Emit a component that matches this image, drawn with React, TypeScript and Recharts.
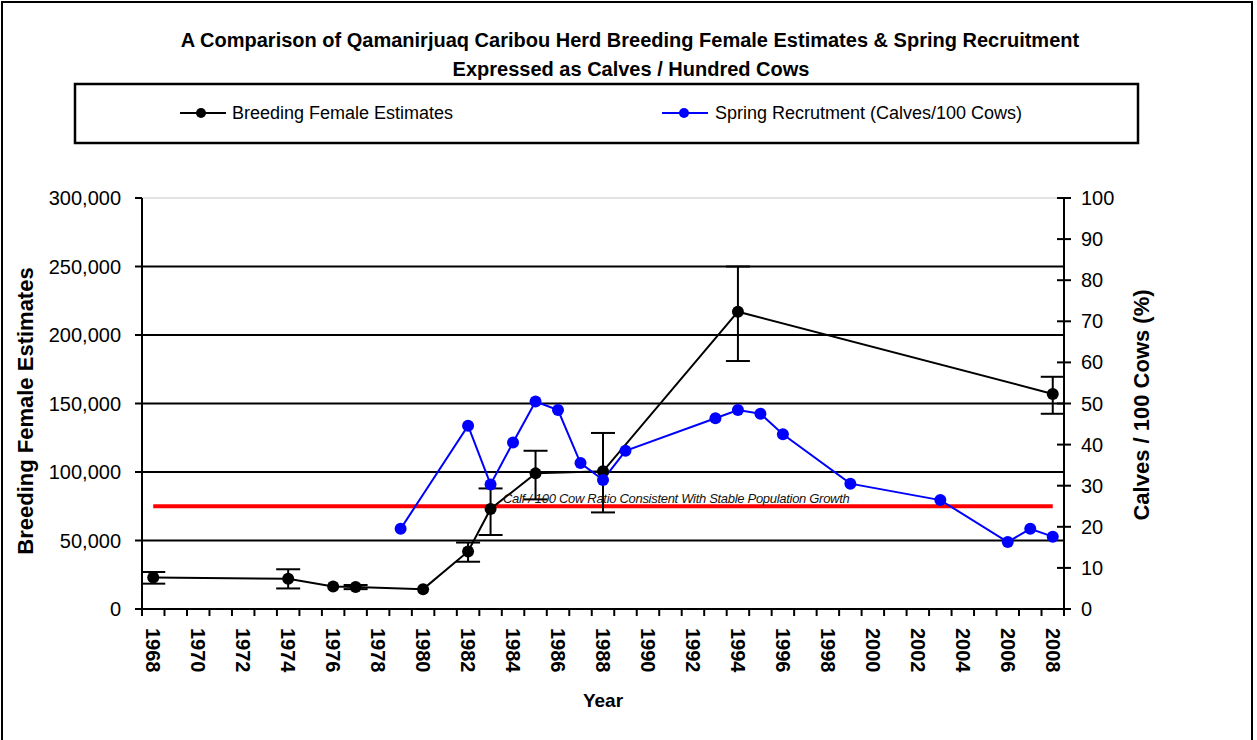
import React from 'react';
import {
  ComposedChart,
  Line,
  XAxis,
  YAxis,
  CartesianGrid,
  ErrorBar,
  ReferenceDot,
} from 'recharts';

const FONT = "Arial, 'Liberation Sans', Helvetica, sans-serif";

// Breeding female estimates (left axis)
const femaleYears = [1968, 1974, 1976, 1977, 1980, 1982, 1983, 1985, 1988, 1994, 2008];
const femaleValues = [23000, 22000, 16500, 16000, 14500, 42000, 73000, 99000, 100500, 217000, 157000];
const femaleErrLow = [4500, 7000, null, 1500, null, 7500, 19000, 19000, 30000, 36000, 14500];
const femaleErrHigh = [4000, 7000, null, 1500, null, 6500, 15000, 16500, 28000, 33000, 12500];

// Spring recruitment, calves / 100 cows (right axis)
const calfYears = [1979, 1982, 1983, 1984, 1985, 1986, 1987, 1988, 1989, 1993, 1994, 1995, 1996, 1999, 2003, 2006, 2007, 2008];
const calfValues = [19.5, 44.6, 30.3, 40.5, 50.5, 48.4, 35.5, 31.4, 38.5, 46.4, 48.4, 47.5, 42.5, 30.5, 26.5, 16.3, 19.5, 17.6];

// Stable population growth threshold (right axis)
const stableYears = [1968, 2008];
const stableValues = [25, 25];
const stableNote = 'Calf / 100 Cow Ratio Consistent With Stable Population Growth';
const stableNoteYear = 1983.55;

// Axis ticks
const leftTicks = [0, 50000, 100000, 150000, 200000, 250000, 300000];
const rightTicks = [0, 10, 20, 30, 40, 50, 60, 70, 80, 90, 100];
const firstYear = 1968;
const lastYear = 2008;
const yearCategories = Array.from({ length: lastYear - firstYear + 1 }, (_, i) => firstYear + i);
const yearLabels = yearCategories.filter((y) => y % 2 === 0);
const yearBoundaries = [...yearCategories.map((y) => y - 0.5), lastYear + 0.5];
const xTicks = [...yearBoundaries, ...yearLabels].sort((a, b) => a - b);

const allYears = Array.from(new Set([...femaleYears, ...calfYears, ...stableYears])).sort((a, b) => a - b);
const tableData = allYears.map((year) => {
  const fi = femaleYears.indexOf(year);
  const ci = calfYears.indexOf(year);
  const si = stableYears.indexOf(year);
  return {
    year,
    female: fi >= 0 ? femaleValues[fi] : null,
    femaleErr:
      fi >= 0 && femaleErrLow[fi] != null ? [femaleErrLow[fi], femaleErrHigh[fi]] : null,
    calves: ci >= 0 ? calfValues[ci] : null,
    stable: si >= 0 ? stableValues[si] : null,
  };
});

const BottomTick = (props: any) => {
  const { x, y, payload } = props;
  const v = payload.value;
  if (!Number.isInteger(v)) {
    return <line x1={x} y1={y} x2={x} y2={y + 7} stroke="#000" strokeWidth={2} />;
  }
  const ty = y + 19;
  return (
    <text
      x={x}
      y={ty}
      transform={`rotate(90 ${x} ${ty})`}
      textAnchor="start"
      dominantBaseline="central"
      fontSize={20}
      fontWeight="bold"
      fontFamily={FONT}
      fill="#000"
    >
      {v}
    </text>
  );
};

const LeftTick = (props: any) => {
  const { x, y, payload } = props;
  return (
    <g>
      <line x1={x - 7} y1={y} x2={x} y2={y} stroke="#000" strokeWidth={2} />
      <text
        x={x - 21}
        y={y}
        textAnchor="end"
        dominantBaseline="central"
        fontSize={20}
        fontFamily={FONT}
        fill="#000"
      >
        {Number(payload.value).toLocaleString('en-US')}
      </text>
    </g>
  );
};

const RightTick = (props: any) => {
  const { x, y, payload } = props;
  return (
    <g>
      <line x1={x - 7} y1={y} x2={x + 7} y2={y} stroke="#000" strokeWidth={2} />
      <text
        x={x + 17}
        y={y}
        textAnchor="start"
        dominantBaseline="central"
        fontSize={20}
        fontFamily={FONT}
        fill="#000"
      >
        {payload.value}
      </text>
    </g>
  );
};

const GridLine = (p: any) => {
  const isTop =
    p.index === leftTicks.length - 1 || (typeof p.y === 'number' && Math.abs(p.y1 - p.y) < 0.5);
  return (
    <line
      key={p.key}
      x1={p.x1}
      y1={p.y1}
      x2={p.x2}
      y2={p.y2}
      stroke={isTop ? '#c8c8c8' : '#000'}
      strokeWidth={isTop ? 1 : 2}
    />
  );
};

const StableLabel = (props: any) => {
  const vb = props.viewBox || {};
  const cx = (vb.cx ?? vb.x ?? 0);
  const cy = (vb.cy ?? vb.y ?? 0);
  return (
    <text
      x={cx}
      y={cy - 3}
      textAnchor="start"
      fontSize={13}
      letterSpacing={-0.3}
      fontStyle="italic"
      fontFamily={FONT}
      fill="#111"
    >
      {stableNote}
    </text>
  );
};

export default function App() {
  return (
    <div style={{ position: 'absolute', left: 0, top: 0, width: 1257, height: 740, background: '#fff', overflow: 'hidden' }}>
      <ComposedChart
        width={1257}
        height={740}
        data={tableData}
        margin={{ top: 198, right: 0, bottom: 31, left: 0 }}
      >
        <CartesianGrid yAxisId="left" vertical={false} horizontal={GridLine} />
        <XAxis
          dataKey="year"
          type="number"
          domain={[firstYear - 0.5, lastYear + 0.5]}
          ticks={xTicks}
          interval={0}
          tickLine={false}
          tickSize={0}
          tickMargin={0}
          height={100}
          tick={<BottomTick />}
          axisLine={{ stroke: '#000', strokeWidth: 2 }}
          allowDataOverflow
        />
        <YAxis
          yAxisId="left"
          orientation="left"
          width={142}
          domain={[0, 300000]}
          ticks={leftTicks}
          interval={0}
          tickLine={false}
          tickSize={0}
          tickMargin={0}
          tick={<LeftTick />}
          axisLine={{ stroke: '#000', strokeWidth: 2 }}
        />
        <YAxis
          yAxisId="right"
          orientation="right"
          width={193}
          domain={[0, 100]}
          ticks={rightTicks}
          interval={0}
          tickLine={false}
          tickSize={0}
          tickMargin={0}
          tick={<RightTick />}
          axisLine={{ stroke: '#000', strokeWidth: 2 }}
        />
        <Line
          yAxisId="right"
          dataKey="stable"
          stroke="#ff0000"
          strokeWidth={4}
          dot={false}
          activeDot={false}
          connectNulls
          isAnimationActive={false}
          legendType="none"
        />
        <Line
          yAxisId="left"
          dataKey="female"
          name="Breeding Female Estimates"
          stroke="#000"
          strokeWidth={2}
          dot={{ r: 6, fill: '#000', stroke: '#000', strokeWidth: 0 }}
          activeDot={false}
          connectNulls
          isAnimationActive={false}
        >
          <ErrorBar dataKey="femaleErr" width={12} stroke="#000" strokeWidth={2} direction="y" />
        </Line>
        <Line
          yAxisId="right"
          dataKey="calves"
          name="Spring Recrutment (Calves/100 Cows)"
          stroke="#0000ff"
          strokeWidth={2}
          dot={{ r: 6, fill: '#0000ff', stroke: '#0000ff', strokeWidth: 0 }}
          activeDot={false}
          connectNulls
          isAnimationActive={false}
        />
        <ReferenceDot
          yAxisId="right"
          x={stableNoteYear}
          y={stableValues[0]}
          r={0}
          fill="none"
          stroke="none"
          label={<StableLabel />}
        />
      </ComposedChart>
      <svg
        width={1257}
        height={740}
        style={{ position: 'absolute', left: 0, top: 0, pointerEvents: 'none' }}
      >
        <rect x={2} y={2} width={1250} height={760} fill="none" stroke="#000" strokeWidth={2} />
        <text x={630} y={40} textAnchor="middle" dominantBaseline="central" fontSize={20} fontWeight="bold" fontFamily={FONT} fill="#000">
          A Comparison of Qamanirjuaq Caribou Herd Breeding Female Estimates &amp; Spring Recruitment
        </text>
        <text x={631} y={69} textAnchor="middle" dominantBaseline="central" fontSize={20} fontWeight="bold" fontFamily={FONT} fill="#000">
          Expressed as Calves / Hundred Cows
        </text>
        <rect x={75} y={84} width={1063} height={59} fill="#fff" stroke="#000" strokeWidth={2.5} />
        <line x1={180} y1={113} x2={226} y2={113} stroke="#000" strokeWidth={2} />
        <circle cx={201} cy={113} r={5} fill="#000" />
        <text x={232} y={113} dominantBaseline="central" fontSize={18} fontFamily={FONT} fill="#000">
          Breeding Female Estimates
        </text>
        <line x1={662} y1={113} x2={708} y2={113} stroke="#0000ff" strokeWidth={2} />
        <circle cx={684} cy={113} r={5} fill="#0000ff" />
        <text x={715} y={113} dominantBaseline="central" fontSize={18} fontFamily={FONT} fill="#000">
          Spring Recrutment (Calves/100 Cows)
        </text>
        <text transform="translate(25,411) rotate(-90)" textAnchor="middle" dominantBaseline="central" fontSize={22} fontWeight="bold" fontFamily={FONT} fill="#000">
          Breeding Female Estimates
        </text>
        <text transform="translate(1141,405) rotate(-90)" textAnchor="middle" dominantBaseline="central" fontSize={22} fontWeight="bold" fontFamily={FONT} fill="#000">
          Calves / 100 Cows (%)
        </text>
        <text x={603} y={700} textAnchor="middle" dominantBaseline="central" fontSize={19} fontWeight="bold" fontFamily={FONT} fill="#000">
          Year
        </text>
      </svg>
    </div>
  );
}
